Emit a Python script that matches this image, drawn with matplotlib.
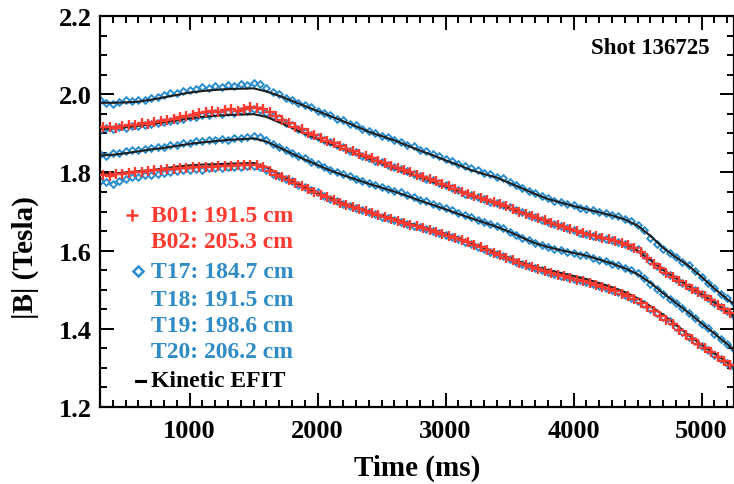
import numpy as np
import matplotlib
matplotlib.use("Agg")
import matplotlib.pyplot as plt
from matplotlib.lines import Line2D
from matplotlib.ticker import MultipleLocator, FormatStrFormatter

# ---------------- data ----------------
T_START_BLUE = 300
T_START_RED = 325
T_START_EFIT = 300
DT_BLUE = 50
DT_RED = 50
DT_EFIT = 100

T17 = [1.985, 1.978, 1.976, 1.981, 1.984, 1.982, 1.986, 1.985, 1.991, 1.994,
       1.997, 2.002, 2.003, 2.008, 2.011, 2.013, 2.018, 2.016, 2.020, 2.019,
       2.024, 2.022, 2.025, 2.024, 2.029, 2.027, 2.016, 2.006, 2.000, 1.990,
       1.986, 1.978, 1.973, 1.968, 1.958, 1.953, 1.946, 1.937, 1.934, 1.924,
       1.921, 1.911, 1.906, 1.902, 1.894, 1.891, 1.882, 1.879, 1.871, 1.867,
       1.858, 1.854, 1.847, 1.842, 1.833, 1.830, 1.821, 1.817, 1.810, 1.807,
       1.799, 1.797, 1.789, 1.786, 1.775, 1.768, 1.761, 1.753, 1.747, 1.739,
       1.734, 1.727, 1.725, 1.719, 1.716, 1.710, 1.707, 1.704, 1.698, 1.696,
       1.690, 1.688, 1.681, 1.675, 1.666, 1.652, 1.633, 1.618, 1.604, 1.593,
       1.583, 1.572, 1.563, 1.549, 1.533, 1.518, 1.505, 1.489, 1.478, 1.466]

T18 = [1.908, 1.913, 1.911, 1.915, 1.914, 1.919, 1.918, 1.922, 1.923, 1.927,
       1.929, 1.931, 1.935, 1.936, 1.941, 1.942, 1.947, 1.946, 1.951, 1.950,
       1.955, 1.953, 1.957, 1.956, 1.961, 1.959, 1.953, 1.945, 1.938, 1.927,
       1.920, 1.910, 1.904, 1.895, 1.891, 1.882, 1.877, 1.869, 1.864, 1.855,
       1.851, 1.842, 1.838, 1.830, 1.826, 1.819, 1.815, 1.808, 1.803, 1.796,
       1.792, 1.784, 1.780, 1.772, 1.767, 1.759, 1.755, 1.746, 1.743, 1.736,
       1.733, 1.725, 1.722, 1.716, 1.711, 1.703, 1.698, 1.690, 1.687, 1.679,
       1.674, 1.667, 1.663, 1.657, 1.653, 1.646, 1.643, 1.637, 1.635, 1.630,
       1.628, 1.622, 1.618, 1.610, 1.603, 1.590, 1.574, 1.561, 1.548, 1.538,
       1.527, 1.518, 1.508, 1.499, 1.488, 1.479, 1.467, 1.456, 1.445, 1.434]

T19 = [1.846, 1.843, 1.849, 1.850, 1.855, 1.857, 1.858, 1.861, 1.862, 1.866,
       1.865, 1.870, 1.871, 1.876, 1.876, 1.880, 1.880, 1.883, 1.882, 1.886,
       1.884, 1.887, 1.888, 1.891, 1.892, 1.890, 1.882, 1.873, 1.866, 1.858,
       1.850, 1.842, 1.836, 1.827, 1.822, 1.813, 1.807, 1.801, 1.795, 1.790,
       1.784, 1.779, 1.773, 1.768, 1.763, 1.758, 1.753, 1.749, 1.742, 1.737,
       1.730, 1.726, 1.719, 1.715, 1.708, 1.703, 1.697, 1.691, 1.686, 1.679,
       1.674, 1.668, 1.663, 1.657, 1.648, 1.641, 1.632, 1.626, 1.619, 1.615,
       1.609, 1.604, 1.602, 1.597, 1.595, 1.590, 1.588, 1.582, 1.577, 1.573,
       1.567, 1.563, 1.556, 1.551, 1.543, 1.531, 1.515, 1.501, 1.490, 1.477,
       1.466, 1.453, 1.440, 1.427, 1.412, 1.401, 1.387, 1.374, 1.360, 1.348]

T20 = [1.779, 1.775, 1.770, 1.778, 1.784, 1.789, 1.788, 1.793, 1.794, 1.797,
       1.799, 1.801, 1.803, 1.805, 1.806, 1.808, 1.807, 1.810, 1.811, 1.812,
       1.814, 1.813, 1.815, 1.816, 1.817, 1.815, 1.806, 1.797, 1.791, 1.783,
       1.778, 1.769, 1.763, 1.754, 1.749, 1.740, 1.733, 1.726, 1.720, 1.714,
       1.709, 1.703, 1.698, 1.693, 1.687, 1.683, 1.677, 1.673, 1.669, 1.664,
       1.661, 1.655, 1.651, 1.646, 1.641, 1.635, 1.630, 1.623, 1.617, 1.610,
       1.604, 1.597, 1.591, 1.585, 1.578, 1.570, 1.565, 1.560, 1.555, 1.551,
       1.545, 1.540, 1.536, 1.532, 1.528, 1.524, 1.519, 1.515, 1.509, 1.504,
       1.499, 1.493, 1.486, 1.479, 1.471, 1.463, 1.451, 1.441, 1.429, 1.419,
       1.405, 1.392, 1.379, 1.368, 1.356, 1.345, 1.334, 1.323, 1.312, 1.302]

B01 = [1.915, 1.917, 1.914, 1.919, 1.921, 1.922, 1.926, 1.925, 1.930, 1.931,
       1.935, 1.937, 1.941, 1.944, 1.948, 1.951, 1.954, 1.957, 1.955, 1.959,
       1.962, 1.958, 1.963, 1.967, 1.965, 1.963, 1.955, 1.945, 1.935, 1.926,
       1.917, 1.910, 1.902, 1.895, 1.888, 1.881, 1.874, 1.867, 1.860, 1.854,
       1.847, 1.841, 1.836, 1.829, 1.824, 1.817, 1.812, 1.806, 1.800, 1.794,
       1.789, 1.783, 1.777, 1.770, 1.764, 1.757, 1.751, 1.745, 1.740, 1.735,
       1.729, 1.724, 1.719, 1.713, 1.707, 1.700, 1.694, 1.688, 1.683, 1.677,
       1.671, 1.665, 1.660, 1.655, 1.650, 1.645, 1.640, 1.637, 1.633, 1.629,
       1.625, 1.620, 1.614, 1.606, 1.596, 1.581, 1.567, 1.555, 1.543, 1.532,
       1.522, 1.513, 1.503, 1.494, 1.484, 1.473, 1.462, 1.451, 1.440]

B02 = [1.793, 1.792, 1.795, 1.796, 1.799, 1.800, 1.802, 1.803, 1.805, 1.806,
       1.808, 1.808, 1.810, 1.811, 1.813, 1.813, 1.815, 1.815, 1.816, 1.817,
       1.817, 1.818, 1.818, 1.819, 1.819, 1.814, 1.803, 1.794, 1.787, 1.780,
       1.772, 1.765, 1.758, 1.750, 1.743, 1.736, 1.729, 1.723, 1.717, 1.712,
       1.706, 1.701, 1.696, 1.690, 1.685, 1.680, 1.675, 1.671, 1.666, 1.662,
       1.658, 1.653, 1.648, 1.643, 1.638, 1.633, 1.627, 1.621, 1.614, 1.608,
       1.601, 1.595, 1.589, 1.582, 1.575, 1.568, 1.563, 1.558, 1.553, 1.548,
       1.543, 1.538, 1.534, 1.530, 1.526, 1.522, 1.517, 1.512, 1.507, 1.502,
       1.497, 1.490, 1.483, 1.475, 1.466, 1.456, 1.446, 1.434, 1.423, 1.412,
       1.398, 1.385, 1.374, 1.362, 1.351, 1.340, 1.329, 1.318, 1.307]

EFIT17 = [1.978, 1.978, 1.979, 1.981, 1.986, 1.992, 1.998, 2.004, 2.008, 2.011,
          2.013, 2.014, 2.015, 2.007, 1.996, 1.983, 1.970, 1.957, 1.944, 1.931,
          1.918, 1.904, 1.893, 1.882, 1.869, 1.856, 1.844, 1.831, 1.819, 1.806,
          1.796, 1.787, 1.773, 1.759, 1.745, 1.732, 1.723, 1.714, 1.706, 1.698,
          1.690, 1.680, 1.664, 1.638, 1.607, 1.583, 1.561, 1.533, 1.503, 1.476,
          1.452]
EFIT18 = [1.911, 1.912, 1.915, 1.919, 1.923, 1.928, 1.933, 1.938, 1.942, 1.945,
          1.947, 1.948, 1.949, 1.942, 1.928, 1.914, 1.899, 1.886, 1.873, 1.860,
          1.848, 1.835, 1.823, 1.811, 1.799, 1.788, 1.776, 1.764, 1.752, 1.740,
          1.730, 1.719, 1.708, 1.697, 1.685, 1.673, 1.662, 1.652, 1.643, 1.635,
          1.627, 1.617, 1.600, 1.576, 1.550, 1.529, 1.509, 1.489, 1.467, 1.444,
          1.422]
EFIT19 = [1.843, 1.845, 1.849, 1.854, 1.859, 1.863, 1.868, 1.873, 1.877, 1.880,
          1.883, 1.885, 1.887, 1.879, 1.864, 1.848, 1.833, 1.819, 1.805, 1.793,
          1.782, 1.771, 1.761, 1.751, 1.740, 1.728, 1.717, 1.706, 1.694, 1.683,
          1.672, 1.661, 1.648, 1.633, 1.619, 1.609, 1.601, 1.594, 1.587, 1.577,
          1.567, 1.555, 1.540, 1.518, 1.491, 1.466, 1.441, 1.414, 1.388, 1.361,
          1.335]
EFIT20 = [1.795, 1.797, 1.800, 1.803, 1.806, 1.810, 1.815, 1.818, 1.820, 1.821,
          1.822, 1.823, 1.824, 1.814, 1.795, 1.778, 1.762, 1.748, 1.735, 1.722,
          1.711, 1.700, 1.690, 1.681, 1.671, 1.662, 1.653, 1.643, 1.632, 1.620,
          1.607, 1.594, 1.581, 1.569, 1.559, 1.550, 1.543, 1.535, 1.527, 1.517,
          1.506, 1.494, 1.478, 1.458, 1.436, 1.410, 1.384, 1.359, 1.337, 1.314,
          1.292]

LEGEND_RED = ["B01: 191.5 cm", "B02: 205.3 cm"]
LEGEND_BLUE = ["T17: 184.7 cm", "T18: 191.5 cm", "T19: 198.6 cm", "T20: 206.2 cm"]
LEGEND_EFIT = "Kinetic EFIT"
TITLE = "Shot 136725"
XLABEL = "Time (ms)"
YLABEL = "|B| (Tesla)"

# ---------------- style ----------------
W, H = 734, 485
BLUE = "#2a8dce"
BLUE_TXT = "#2f8cc6"
RED = "#ff3a30"
BLACK = "#1e1e1e"
plt.rcParams["font.family"] = ["Liberation Serif", "DejaVu Serif"]
plt.rcParams["font.weight"] = "bold"

fig = plt.figure(figsize=(W / 100, H / 100), dpi=100)
ax = fig.add_axes([100 / W, 1 - 408 / H, 633.5 / W, 391 / H])


def times(start, dt, arr):
    return start + dt * np.arange(len(arr))


for arr in (T17, T18, T19, T20):
    ax.plot(times(T_START_BLUE, DT_BLUE, arr), arr, linestyle="none", marker="D",
            markersize=3.4, markerfacecolor="none", markeredgecolor=BLUE,
            markeredgewidth=1.4, zorder=2)
for arr in (EFIT17, EFIT18, EFIT19, EFIT20):
    ax.plot(times(T_START_EFIT, DT_EFIT, arr), arr, color=BLACK, lw=1.5, zorder=3)
for arr in (B01, B02):
    ax.plot(times(T_START_RED, DT_RED, arr), arr, linestyle="none", marker="+",
            markersize=6.5, markeredgecolor=RED, markeredgewidth=1.7, zorder=4)

ax.set_xlim(300, 5250)
ax.set_ylim(1.2, 2.2)
ax.xaxis.set_major_locator(MultipleLocator(1000))
ax.xaxis.set_minor_locator(MultipleLocator(100))
ax.yaxis.set_major_locator(MultipleLocator(0.2))
ax.yaxis.set_minor_locator(MultipleLocator(0.05))
ax.tick_params(which="both", direction="in", top=True, right=True, width=1.4)
ax.tick_params(which="major", length=10, labelsize=19)
ax.tick_params(axis="x", which="major", pad=9)
ax.tick_params(axis="y", which="major", pad=6)
ax.tick_params(which="minor", length=5)
ax.yaxis.set_major_formatter(FormatStrFormatter("%.1f"))
for lab in ax.get_xticklabels() + ax.get_yticklabels():
    lab.set_fontweight("bold")
for s in ax.spines.values():
    s.set_linewidth(1.6)

ax.set_xlabel(XLABEL, fontsize=21, fontweight="bold", labelpad=8)
fig.text(25 / W, 1 - 258 / H, YLABEL, fontsize=21, fontweight="bold",
         rotation=90, ha="center", va="center")


def fp(x, y):
    return (x / W, 1 - y / H)


fig.text(*fp(710, 48), TITLE, fontsize=16.5, fontweight="bold", ha="right", va="center")

ys_red = [217, 243]
ys_blue = [273, 300, 327, 353]
y_efit = 382
xt = 151
for lab, y in zip(LEGEND_RED, ys_red):
    fig.text(*fp(xt, y), lab, color=RED, fontsize=17, fontweight="bold", va="center", ha="left")
for lab, y in zip(LEGEND_BLUE, ys_blue):
    fig.text(*fp(xt, y), lab, color=BLUE_TXT, fontsize=17, fontweight="bold", va="center", ha="left")
fig.text(*fp(xt, y_efit), LEGEND_EFIT, color="black", fontsize=17, fontweight="bold", va="center", ha="left")

fig.add_artist(Line2D([fp(132, 0)[0]], [fp(0, 216)[1]], marker="+", markersize=9,
                      markeredgecolor=RED, markeredgewidth=1.8, linestyle="none",
                      transform=fig.transFigure))
fig.add_artist(Line2D([fp(138, 0)[0]], [fp(0, 272)[1]], marker="D", markersize=5,
                      markerfacecolor="none", markeredgecolor=BLUE, markeredgewidth=1.8,
                      linestyle="none", transform=fig.transFigure))
fig.add_artist(Line2D([fp(136, 0)[0], fp(145, 0)[0]], [fp(0, 382)[1]] * 2,
                      color="black", lw=2.2, transform=fig.transFigure))

fig.savefig("out.png", dpi=100)
